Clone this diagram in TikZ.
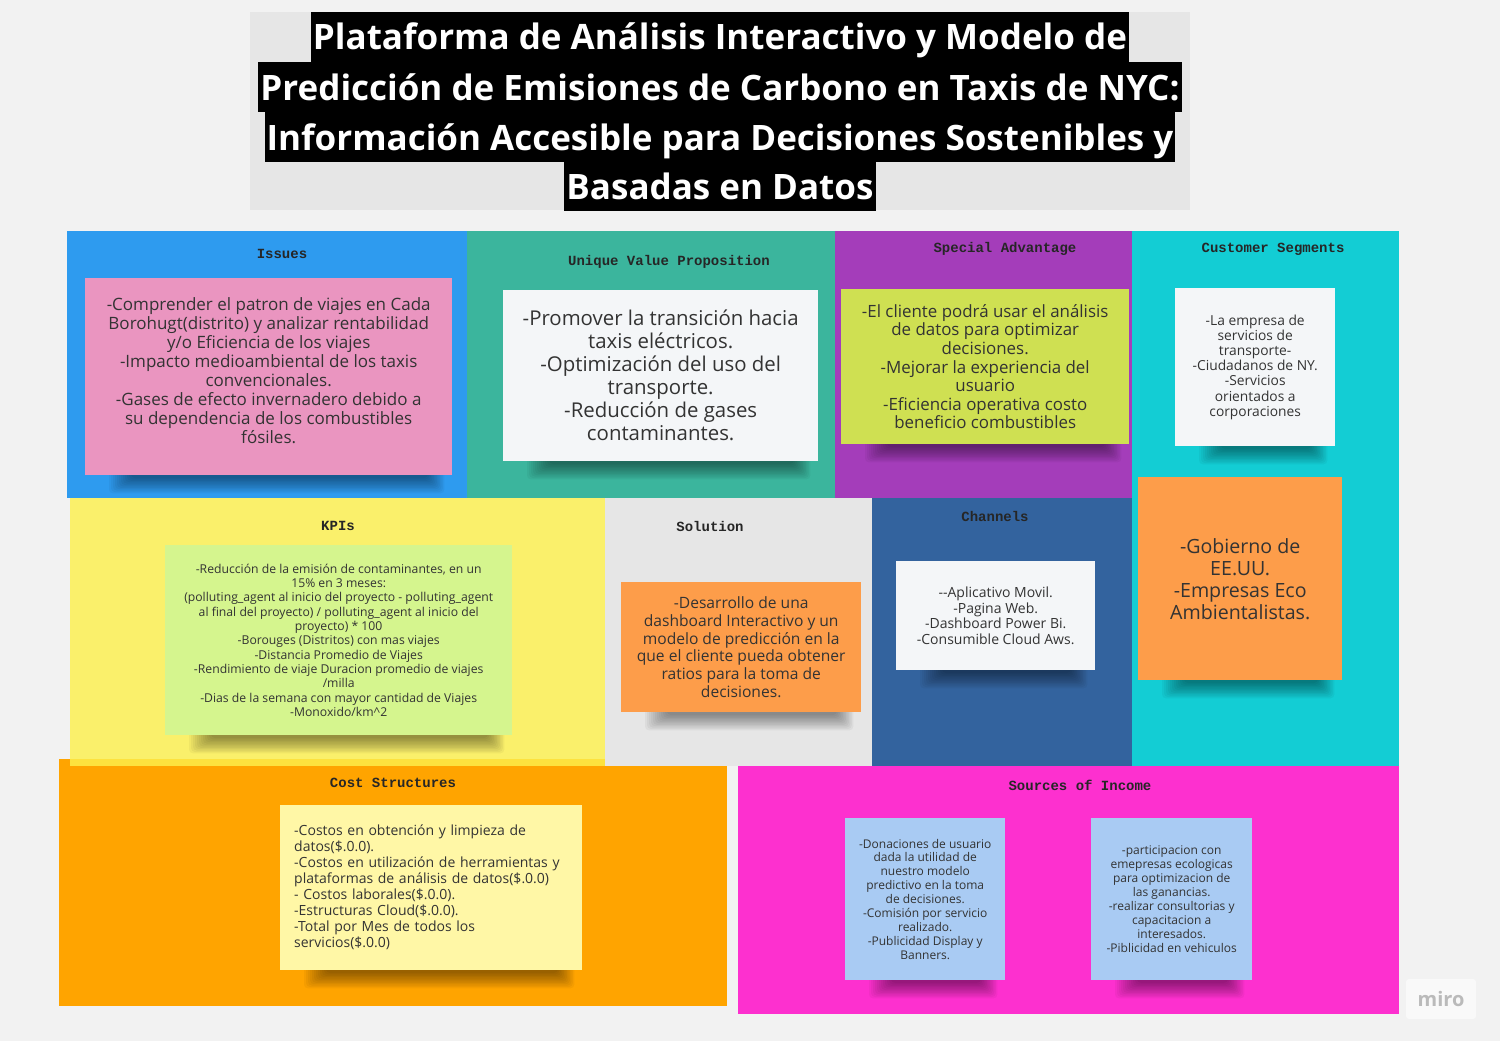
\documentclass[tikz,border=0pt]{standalone}
\usepackage{fontspec}
\setmainfont{Open Sans}
\newfontfamily\headfont{Liberation Mono}
\usetikzlibrary{calc,positioning}
\definecolor{paper}{HTML}{F2F2F2}
\definecolor{titlegray}{HTML}{E6E6E6}
\definecolor{issuesblue}{HTML}{2E9BEF}
\definecolor{uvpteal}{HTML}{3BB59D}
\definecolor{advpurple}{HTML}{A43DBA}
\definecolor{segcyan}{HTML}{13CDD4}
\definecolor{kpiyellow}{HTML}{FAF06B}
\definecolor{kpistrip}{HTML}{FDE23E}
\definecolor{solgray}{HTML}{E6E6E6}
\definecolor{chanblue}{HTML}{33639E}
\definecolor{costorange}{HTML}{FFA400}
\definecolor{incomepink}{HTML}{FD30CF}
\definecolor{notepink}{HTML}{EA95C0}
\definecolor{notewhite}{HTML}{F4F6F8}
\definecolor{notelime}{HTML}{CFE052}
\definecolor{noteorange}{HTML}{FD9D4A}
\definecolor{notegreen}{HTML}{D5F58E}
\definecolor{notecream}{HTML}{FFF7A6}
\definecolor{noteblue}{HTML}{A9CBF3}
\definecolor{inktext}{HTML}{333333}
\pgfdeclarelayer{board}
\pgfdeclarelayer{shade}
\pgfsetlayers{board,shade,main}
\tikzset{
  block/.style={inner sep=0pt, anchor=north west},
  blockhead/.style={font=\headfont\bfseries\fontsize{14}{16}\selectfont, text=black!85, inner sep=0pt},
  note/.style={inner sep=0pt, anchor=north west, align=center, text=inktext},
  titleline/.style={fill=black, text=white, inner xsep=2pt, inner ysep=0pt, minimum height=50pt,
    text height=30pt, text depth=4pt, font=\bfseries\fontsize{35}{40}\selectfont}
}
% soft shadow under a sticky note
\newcommand{\noteshadow}[1]{%
  \begin{pgfonlayer}{shade}
    \foreach \k in {0,...,11}
      \fill[black, opacity=0.04, rounded corners=4pt]
        ($(#1.south west)+(24+2*\k,-4)$) rectangle ($(#1.south east)+(-8-1.5*\k,18-1.4*\k)$);
  \end{pgfonlayer}}

\begin{document}
\begin{tikzpicture}[x=1pt, y=-1pt]
  \begin{pgfonlayer}{board}
    \fill[paper] (0,0) rectangle (1500,1041);
    \node[block, fill=titlegray, minimum width=940pt, minimum height=198pt] (titlebox) at (250,12) {};

    \node[block, fill=issuesblue, minimum width=400pt, minimum height=267pt] (issues) at (67,231) {};
    \node[block, fill=uvpteal, minimum width=368pt, minimum height=267pt] (uvp) at (467,231) {};
    \node[block, fill=advpurple, minimum width=297pt, minimum height=267pt] (advantage) at (835,231) {};
    \node[block, fill=segcyan, minimum width=267pt, minimum height=535pt] (segments) at (1132,231) {};
    \node[block, fill=costorange, minimum width=668pt, minimum height=247pt] (costs) at (59,759) {};
    \node[block, fill=kpiyellow, minimum width=535pt, minimum height=261pt] (kpis) at (70,498) {};
    \fill[kpistrip] (70,759) rectangle (605,766);
    \node[block, fill=solgray, minimum width=267pt, minimum height=268pt] (solution) at (605,498) {};
    \node[block, fill=chanblue, minimum width=260pt, minimum height=268pt] (channels) at (872,498) {};
    \node[block, fill=incomepink, minimum width=661pt, minimum height=248pt] (income) at (738,766) {};
  \end{pgfonlayer}

  \node[titleline] (title1) at (720,37) {Plataforma de Análisis Interactivo y Modelo de};
  \node[titleline] (title2) at (720,87) {Predicción de Emisiones de Carbono en Taxis de NYC:};
  \node[titleline] (title3) at (720,137) {Información Accesible para Decisiones Sostenibles y};
  \node[titleline] (title4) at (720,186) {Basadas en Datos};

  \node[blockhead] (issueshead) at (282,254) {Issues};
  \node[blockhead] (uvphead) at (669,262) {Unique Value Proposition};
  \node[blockhead] (advhead) at (1005,249) {Special Advantage};
  \node[blockhead] (seghead) at (1273,249) {Customer Segments};
  \node[blockhead] (kpihead) at (338,526) {KPIs};
  \node[blockhead] (solhead) at (710,526) {Solution};
  \node[blockhead] (chanhead) at (995,516) {Channels};
  \node[blockhead] (costhead) at (393,783) {Cost Structures};
  \node[blockhead] (incomehead) at (1080,785) {Sources of Income};

  \node[note, fill=notepink, minimum width=367pt, minimum height=197pt, font=\fontsize{17}{19}\selectfont]
    (issuesnote) at (85,278) {-Comprender el patron de viajes en Cada\\Borohugt(distrito) y analizar rentabilidad\\y/o Eficiencia de los viajes\\-Impacto medioambiental de los taxis\\convencionales.\\-Gases de efecto invernadero debido a\\su dependencia de los combustibles\\fósiles.\\[-6pt]};
  \noteshadow{issuesnote}

  \node[note, fill=notewhite, minimum width=315pt, minimum height=171pt, font=\fontsize{20.4}{23}\selectfont]
    (uvpnote) at (503,290) {-Promover la transición hacia\\taxis eléctricos.\\-Optimización del uso del\\transporte.\\-Reducción de gases\\contaminantes.};
  \noteshadow{uvpnote}

  \node[note, fill=notelime, minimum width=288pt, minimum height=155pt, font=\fontsize{16.9}{18.6}\selectfont]
    (advnote) at (841,289) {-El cliente podrá usar el análisis\\de datos para optimizar\\decisiones.\\-Mejorar la experiencia del\\usuario\\-Eficiencia operativa costo\\beneficio combustibles};
  \noteshadow{advnote}

  \node[note, fill=notewhite, minimum width=160pt, minimum height=158pt, font=\fontsize{13.8}{15.2}\selectfont]
    (segnote) at (1175,288) {-La empresa de\\servicios de\\transporte-\\-Ciudadanos de NY.\\-Servicios\\orientados a\\corporaciones};
  \noteshadow{segnote}

  \node[note, fill=noteorange, minimum width=204pt, minimum height=203pt, font=\fontsize{19.6}{22}\selectfont]
    (govnote) at (1138,477) {-Gobierno de\\EE.UU.\\-Empresas Eco\\Ambientalistas.};
  \noteshadow{govnote}

  \node[note, fill=notegreen, minimum width=347pt, minimum height=190pt, font=\fontsize{12.2}{14.3}\selectfont]
    (kpinote) at (165,545) {-Reducción de la emisión de contaminantes, en un\\15\% en 3 meses:\\(polluting\_agent al inicio del proyecto - polluting\_agent\\al final del proyecto) / polluting\_agent al inicio del\\proyecto) * 100\\-Borouges (Distritos) con mas viajes\\-Distancia Promedio de Viajes\\-Rendimiento de viaje Duracion promedio de viajes\\/milla\\-Dias de la semana con mayor cantidad de Viajes\\-Monoxido/km\textasciicircum2};
  \noteshadow{kpinote}

  \node[note, fill=noteorange, minimum width=240pt, minimum height=130pt, font=\fontsize{15.6}{17.7}\selectfont]
    (solnote) at (621,582) {-Desarrollo de una\\dashboard Interactivo y un\\modelo de predicción en la\\que el cliente pueda obtener\\ratios para la toma de\\decisiones.};
  \noteshadow{solnote}

  \node[note, fill=notewhite, minimum width=199pt, minimum height=109pt, font=\fontsize{14}{15.6}\selectfont]
    (channote) at (896,561) {-{}-Aplicativo Movil.\\-Pagina Web.\\-Dashboard Power Bi.\\-Consumible Cloud Aws.};
  \noteshadow{channote}

  \node[note, fill=notecream, minimum width=302pt, minimum height=165pt, align=left, text width=274pt,
    inner xsep=14pt, font=\fontsize{14}{16}\selectfont]
    (costnote) at (280,805) {-Costos en obtención y limpieza de\\datos(\$.0.0).\\-Costos en utilización de herramientas y\\plataformas de análisis de datos(\$.0.0)\\- Costos laborales(\$.0.0).\\-Estructuras Cloud(\$.0.0).\\-Total por Mes de todos los\\servicios(\$.0.0)};
  \noteshadow{costnote}

  \node[note, fill=noteblue, minimum width=160pt, minimum height=162pt, font=\fontsize{12}{13.9}\selectfont]
    (donnote) at (845,818) {-Donaciones de usuario\\dada la utilidad de\\nuestro modelo\\predictivo en la toma\\de decisiones.\\-Comisión por servicio\\realizado.\\-Publicidad Display y\\Banners.};
  \noteshadow{donnote}

  \node[note, fill=noteblue, minimum width=161pt, minimum height=162pt, font=\fontsize{12}{13.9}\selectfont]
    (partnote) at (1091,818) {-participacion con\\emepresas ecologicas\\para optimizacion de\\las ganancias.\\-realizar consultorias y\\capacitacion a\\interesados.\\-Piblicidad en vehiculos};
  \noteshadow{partnote}

  \node[fill=white!55!paper, rounded corners=3pt, minimum width=70pt, minimum height=40pt,
    text=black!27, font=\bfseries\fontsize{20}{24}\selectfont] (miro) at (1441,999) {miro};
\end{tikzpicture}
\end{document}
